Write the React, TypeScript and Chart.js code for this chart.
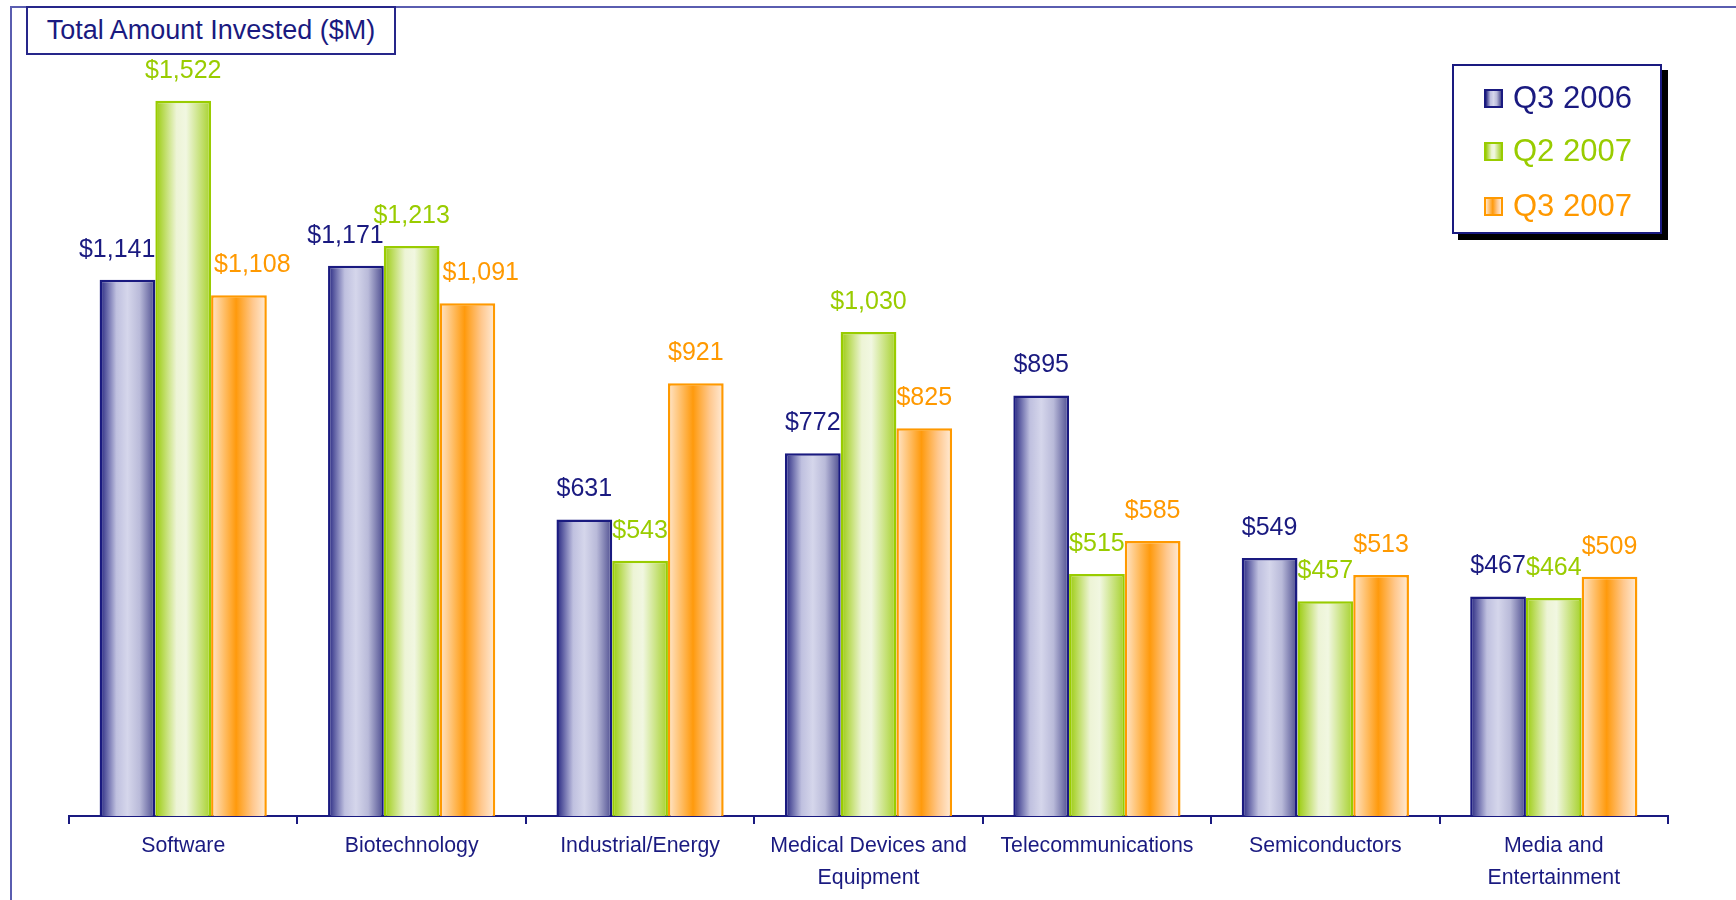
import React, { useEffect, useRef } from 'react';
import { Chart, registerables } from 'chart.js';

Chart.register(...registerables);

const categories: (string | string[])[] = [
  'Software',
  'Biotechnology',
  'Industrial/Energy',
  ['Medical Devices and', 'Equipment'],
  'Telecommunications',
  'Semiconductors',
  ['Media and', 'Entertainment'],
];

const seriesNames = ['Q3 2006', 'Q2 2007', 'Q3 2007'];
const q3_2006 = [1141, 1171, 631, 772, 895, 549, 467];
const q2_2007 = [1522, 1213, 543, 1030, 515, 457, 464];
const q3_2007 = [1108, 1091, 921, 825, 585, 513, 509];

const titleText = 'Total Amount Invested ($M)';

const NAVY = '#1a1a80';
const GREEN = '#99cc00';
const ORANGE = '#ff9900';
const FRAME = '#5a5db0';
const FONT = '"Liberation Sans", Arial, sans-serif';

const seriesColors = [NAVY, GREEN, ORANGE];
const gradientStops: [number, string][][] = [
  [
    [0, '#23237f'],
    [0.3, '#bfc0df'],
    [0.5, '#d5d6eb'],
    [0.72, '#b9bad9'],
    [1, '#4b4b8e'],
  ],
  [
    [0, '#9acb0a'],
    [0.38, '#edf4d6'],
    [0.55, '#f1f7e1'],
    [1, '#a6d12a'],
  ],
  [
    [0, '#ffe6cc'],
    [0.45, '#ff9a0c'],
    [0.75, '#ffc88e'],
    [1, '#ffecd9'],
  ],
];

const cssGradient = (i: number) =>
  `linear-gradient(to right, ${gradientStops[i].map(([p, c]) => `${c} ${p * 100}%`).join(', ')})`;

const gradientPlugin = {
  id: 'barGradients',
  beforeDatasetsDraw(chart: any) {
    const ctx = chart.ctx;
    chart.data.datasets.forEach((_ds: any, i: number) => {
      const meta = chart.getDatasetMeta(i);
      meta.data.forEach((el: any) => {
        const { x, width } = el.getProps(['x', 'width'], true);
        const g = ctx.createLinearGradient(x - width / 2, 0, x + width / 2, 0);
        gradientStops[i].forEach(([p, c]) => g.addColorStop(p, c));
        el.options = Object.assign({}, el.options, { backgroundColor: g });
      });
    });
  },
};

const labelPlugin = {
  id: 'valueLabels',
  afterDatasetsDraw(chart: any) {
    const ctx = chart.ctx;
    ctx.save();
    ctx.font = `25px ${FONT}`;
    ctx.textBaseline = 'middle';
    chart.data.datasets.forEach((ds: any, i: number) => {
      const meta = chart.getDatasetMeta(i);
      meta.data.forEach((el: any, j: number) => {
        const { x, y, width } = el.getProps(['x', 'y', 'width'], true);
        const text = '$' + Number(ds.data[j]).toLocaleString('en-US');
        const tw = ctx.measureText(text).width;
        let cx = x;
        if (tw > width) {
          if (i === 0) cx = x + width / 2 - tw / 2;
          else if (i === 2) cx = x - width / 2 + tw / 2 + 3;
        }
        ctx.fillStyle = seriesColors[i];
        ctx.textAlign = 'center';
        ctx.fillText(text, cx, y - 30);
      });
    });
    ctx.restore();
  },
};

export default function App() {
  const canvasRef = useRef<HTMLCanvasElement | null>(null);

  useEffect(() => {
    if (!canvasRef.current) return;
    const data = [q3_2006, q2_2007, q3_2007];
    const chart = new Chart(canvasRef.current, {
      type: 'bar',
      data: {
        labels: categories,
        datasets: data.map((d, i) => ({
          label: seriesNames[i],
          data: d,
          backgroundColor: seriesColors[i],
          borderColor: seriesColors[i],
          borderWidth: 2.5,
          categoryPercentage: 0.732,
          barPercentage: 1,
        })),
      },
      options: {
        responsive: false,
        animation: false,
        devicePixelRatio: 1,
        layout: { padding: { left: 69, right: 68, top: 64, bottom: 0 } },
        plugins: {
          legend: { display: false },
          title: { display: false },
          tooltip: { enabled: false },
        },
        scales: {
          x: {
            grid: {
              offset: true,
              drawOnChartArea: false,
              drawTicks: true,
              tickLength: 8,
              color: NAVY,
              lineWidth: 2,
            },
            border: { display: true, color: NAVY, width: 2 },
            ticks: {
              color: NAVY,
              font: { family: FONT, size: 21.3, lineHeight: 1.5 },
              padding: 6,
              maxRotation: 0,
              autoSkip: false,
            },
          },
          y: {
            display: false,
            min: 0,
            max: 1600,
          },
        },
      },
      plugins: [gradientPlugin, labelPlugin],
    });
    return () => chart.destroy();
  }, []);

  return (
    <div
      style={{
        position: 'absolute',
        left: 0,
        top: 0,
        width: 1736,
        height: 900,
        overflow: 'hidden',
        background: '#fff',
        fontFamily: FONT,
      }}
    >
      <canvas
        ref={canvasRef}
        width={1736}
        height={900}
        style={{ position: 'absolute', left: 0, top: 0, width: 1736, height: 900 }}
      />
      <div
        style={{
          position: 'absolute',
          left: 10,
          top: 6,
          width: 1730,
          height: 900,
          borderTop: `2px solid ${FRAME}`,
          borderLeft: `2px solid ${FRAME}`,
          boxSizing: 'border-box',
          pointerEvents: 'none',
        }}
      />
      <div
        style={{
          position: 'absolute',
          left: 26,
          top: 6,
          width: 370,
          height: 49,
          boxSizing: 'border-box',
          border: `2px solid #26268a`,
          background: '#fff',
          color: NAVY,
          fontSize: 27,
          display: 'flex',
          alignItems: 'center',
          justifyContent: 'center',
          whiteSpace: 'nowrap',
        }}
      >
        {titleText}
      </div>
      <div
        style={{
          position: 'absolute',
          left: 1452,
          top: 64,
          width: 210,
          height: 170,
          boxSizing: 'border-box',
          border: `2px solid ${NAVY}`,
          background: '#fff',
          boxShadow: '6px 6px 0 #000',
        }}
      >
        {seriesNames.map((name, i) => (
          <div
            key={name}
            style={{
              position: 'absolute',
              left: 30,
              top: [14, 67, 122][i],
              height: 36,
              display: 'flex',
              alignItems: 'center',
              whiteSpace: 'nowrap',
            }}
          >
            <span
              style={{
                display: 'inline-block',
                width: 19,
                height: 19,
                boxSizing: 'border-box',
                border: `2px solid ${seriesColors[i]}`,
                background: cssGradient(i),
                marginRight: 10,
              }}
            />
            <span style={{ color: seriesColors[i], fontSize: 31 }}>{name}</span>
          </div>
        ))}
      </div>
    </div>
  );
}
